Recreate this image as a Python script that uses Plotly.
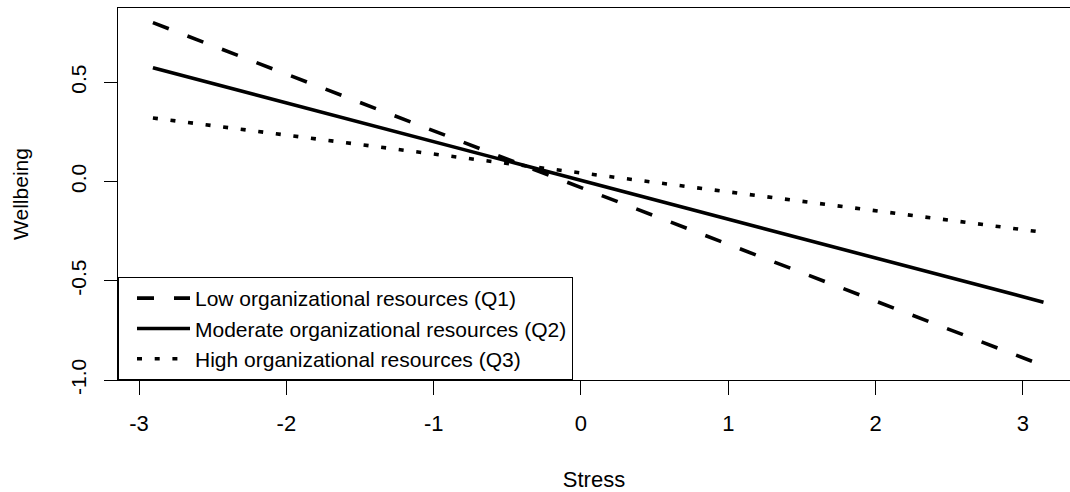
import plotly.graph_objects as go

# Stress range (x) for the simple-slope lines
stress = [-2.906, 3.14]
# Wellbeing predicted at the endpoints for each level of organizational resources
low_q1 = [0.800, -0.928]
moderate_q2 = [0.573, -0.608]
high_q3 = [0.320, -0.256]

series_names = [
    "Low organizational resources (Q1)",
    "Moderate organizational resources (Q2)",
    "High organizational resources (Q3)",
]

x_ticks = [-3, -2, -1, 0, 1, 2, 3]
y_ticks = [-1.0, -0.5, 0.0, 0.5]
y_tick_text = ["-1.0", "-0.5", "0.0", "0.5"]

FONT = "Liberation Sans, Arial, sans-serif"

fig = go.Figure()
fig.add_trace(go.Scatter(x=stress, y=low_q1, mode="lines", name=series_names[0],
                         line=dict(color="black", width=3.6, dash="17px,20px")))
fig.add_trace(go.Scatter(x=stress, y=moderate_q2, mode="lines", name=series_names[1],
                         line=dict(color="black", width=3.6)))
fig.add_trace(go.Scatter(x=stress, y=high_q3, mode="lines", name=series_names[2],
                         line=dict(color="black", width=3.6, dash="5px,12.7px")))

fig.update_layout(
    width=1070, height=492,
    margin=dict(l=118, r=0, t=8, b=112, autoexpand=False),
    plot_bgcolor="white", paper_bgcolor="white",
    font=dict(family=FONT, size=22, color="black"),
    showlegend=True,
    legend=dict(
        x=0, y=0, xanchor="left", yanchor="bottom",
        bgcolor="white", bordercolor="black", borderwidth=1,
        font=dict(family=FONT, size=21, color="black"),
        itemwidth=53, indentation=13,
    ),
    xaxis=dict(
        range=[-3.143, 3.32], tickvals=x_ticks, ticktext=[str(v) for v in x_ticks],
        showgrid=False, zeroline=False, showline=True, mirror=True,
        linecolor="black", linewidth=1, automargin=False,
        ticks="outside", ticklen=14, tickcolor="black", tickwidth=1,
        tickfont=dict(size=22), ticklabelstandoff=10,
        title=dict(text="Stress", standoff=37, font=dict(size=22)),
    ),
    yaxis=dict(
        range=[-1.0, 0.874], tickvals=y_ticks, ticktext=y_tick_text,
        showgrid=False, zeroline=False, showline=True, mirror=False,
        linecolor="black", linewidth=1, automargin=False,
        ticks="outside", ticklen=13, tickcolor="black", tickwidth=1,
        tickangle=-90, tickfont=dict(size=21), ticklabelstandoff=10,
        title=dict(text="Wellbeing", standoff=32, font=dict(size=21)),
    ),
)

fig.write_html(
    "out.html",
    config={"displayModeBar": False},
    post_script="document.body.style.margin='0';document.body.style.overflow='hidden';",
)
